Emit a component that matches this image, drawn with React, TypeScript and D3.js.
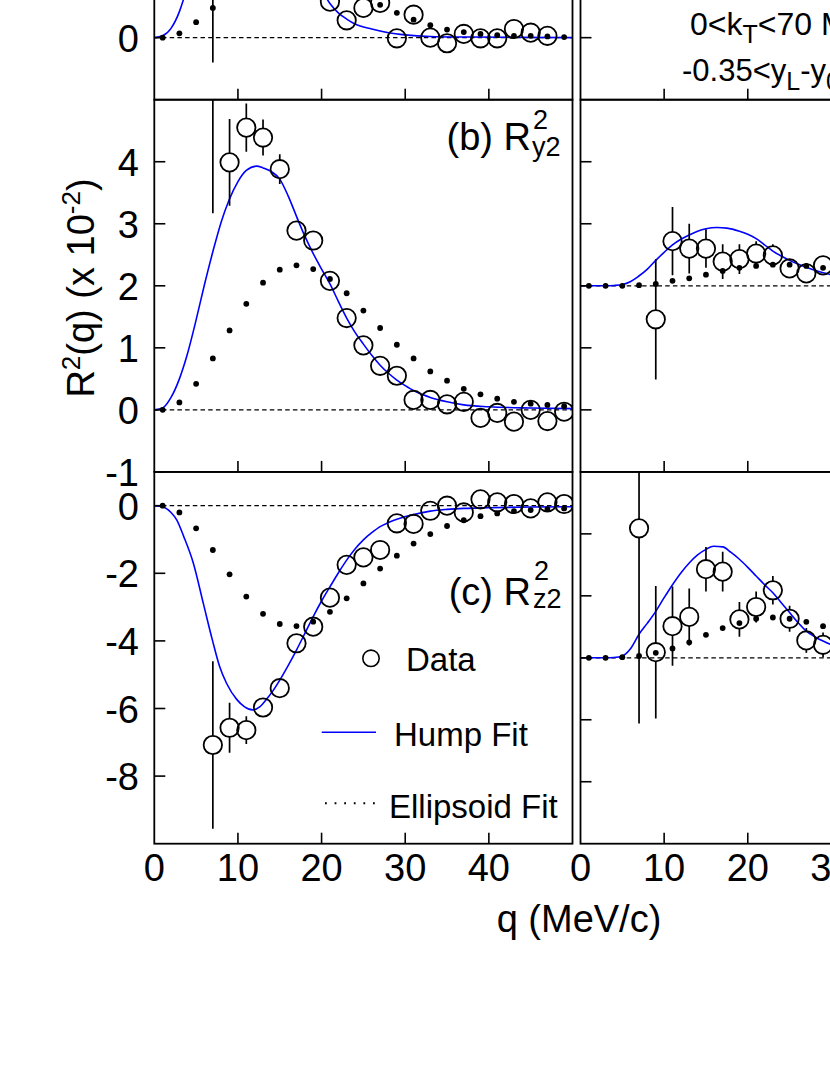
import React from "react";
import * as d3 from "d3";

// ---------------- data ----------------
const Q_LEFT = [1, 3, 5, 7, 9, 11, 13, 15, 17, 19, 21, 23, 25, 27, 29, 31, 33, 35, 37, 39, 41, 43, 45, 47, 49];
const Q_RIGHT = [1, 3, 5, 7, 9, 11, 13, 15, 17, 19, 21, 23, 25, 27, 29];

// (a) left panel (mostly above the visible area)
const A_ELL = [0, 0.07, 0.25, 0.48, 0.8, 1.1, 1.3, 1.38, 1.33, 1.2, 1.02, 0.85, 0.7, 0.53, 0.4, 0.29, 0.2, 0.13, 0.09, 0.06, 0.04, 0.03, 0.03, 0.02, 0.01];
const A_DATA = [null, null, null, 1.5, 2.5, 2.7, 2.5, 2.1, 1.6, 1.1, 0.58, 0.28, 0.48, 0.56, -0.01, 0.37, 0.0, -0.09, 0.06, -0.01, -0.01, 0.14, 0.08, 0.03, null];
const A_ERR = [0, 0, 0, 1.9, 0.5, 0.35, 0.25, 0.2, 0.15, 0.1, 0.08, 0.07, 0.06, 0.06, 0.05, 0.05, 0.05, 0.05, 0.05, 0.05, 0.05, 0.05, 0.05, 0.05, 0];
const A_HUMP_Q = [0, 1, 2, 3, 3.5, 4, 6, 8, 10, 12, 14, 16, 18, 20, 21, 22, 23, 24, 26, 28, 30, 33, 38, 50];
const A_HUMP = [0, 0.03, 0.15, 0.42, 0.62, 0.85, 1.9, 2.7, 3.0, 2.9, 2.5, 1.9, 1.3, 0.78, 0.55, 0.4, 0.3, 0.22, 0.14, 0.08, 0.045, 0.02, 0.01, 0];

// (b) R^2_y2 left panel
const B_ELL = [0, 0.12, 0.42, 0.83, 1.28, 1.71, 2.05, 2.26, 2.33, 2.27, 2.11, 1.88, 1.6, 1.32, 1.05, 0.83, 0.62, 0.47, 0.34, 0.25, 0.18, 0.13, 0.1, 0.08, 0.06];
const B_DATA = [null, null, null, 6.5, 3.99, 4.55, 4.39, 3.88, 2.89, 2.73, 2.08, 1.48, 1.04, 0.71, 0.55, 0.16, 0.16, 0.09, 0.13, -0.13, -0.05, -0.19, 0.0, -0.18, -0.03];
const B_ERR = [0, 0, 0, 3.33, 0.7, 0.39, 0.29, 0.24, 0.1, 0.1, 0.08, 0.06, 0.06, 0.05, 0.05, 0.05, 0.05, 0.05, 0.05, 0.05, 0.05, 0.05, 0.05, 0.05, 0.05];
const B_HUMP_Q = [0, 1, 2, 3, 3.87, 5, 6, 7.06, 8, 8.93, 10, 11, 12.24, 13, 14, 15, 16, 17, 18, 19, 20, 21, 22, 23, 24, 25, 26, 27, 28, 29, 30, 31, 32, 33, 35, 37, 40, 45, 50];
const B_HUMP = [0, 0.03, 0.2, 0.5, 0.86, 1.45, 2.02, 2.58, 3.03, 3.38, 3.68, 3.86, 3.93, 3.9, 3.84, 3.72, 3.45, 3.12, 2.8, 2.52, 2.27, 2.03, 1.75, 1.48, 1.25, 1.06, 0.88, 0.72, 0.59, 0.48, 0.39, 0.31, 0.25, 0.2, 0.13, 0.08, 0.05, 0.03, 0.02];

// (c) R^2_z2 left panel
const C_ELL = [0, -0.2, -0.67, -1.31, -2.03, -2.69, -3.2, -3.5, -3.56, -3.43, -3.14, -2.74, -2.3, -1.86, -1.48, -1.12, -0.84, -0.6, -0.43, -0.31, -0.23, -0.16, -0.13, -0.1, -0.08];
const C_DATA = [null, null, null, -7.08, -6.57, -6.64, -5.97, -5.4, -4.07, -3.58, -2.72, -1.75, -1.53, -1.31, -0.52, -0.54, -0.15, 0.0, -0.2, 0.19, 0.1, 0.05, -0.08, 0.1, 0.05];
const C_ERR = [0, 0, 0, 2.48, 0.74, 0.41, 0.12, 0.1, 0.1, 0.1, 0.08, 0.08, 0.07, 0.07, 0.06, 0.06, 0.06, 0.06, 0.06, 0.06, 0.06, 0.06, 0.06, 0.06, 0.06];
const C_HUMP_Q = [0, 1, 2, 2.68, 3.5, 4.67, 5.86, 6.94, 7.8, 8.65, 9.85, 10.8, 11.76, 12.6, 13.4, 14.2, 15, 16, 17, 18, 19, 20, 21, 22, 23, 24, 25, 26, 27, 28, 29, 31, 33, 35, 37, 40, 45, 50];
const C_HUMP = [0, -0.03, -0.2, -0.42, -0.9, -1.7, -2.89, -3.97, -4.75, -5.26, -5.73, -5.95, -6.04, -5.95, -5.73, -5.47, -5.16, -4.73, -4.27, -3.78, -3.28, -2.82, -2.4, -1.99, -1.61, -1.28, -1.01, -0.8, -0.62, -0.5, -0.4, -0.26, -0.16, -0.11, -0.08, -0.06, -0.04, -0.03];

// right column, middle row
const RB_ELL = [0, 0, 0, 0.01, 0.03, 0.08, 0.12, 0.18, 0.24, 0.29, 0.32, 0.34, 0.34, 0.32, 0.29];
const RB_DATA = [null, null, null, null, -0.54, 0.72, 0.6, 0.6, 0.39, 0.43, 0.52, 0.49, 0.28, 0.2, 0.33];
const RB_ERR = [0, 0, 0, 0, 0.97, 0.55, 0.4, 0.31, 0.28, 0.24, 0.2, 0.18, 0.12, 0.08, 0.08];
const RB_HUMP_Q = [0, 3, 4, 5, 6, 6.9, 8, 9, 10, 11, 12, 13, 14, 15, 16.3, 17.5, 19, 20, 21, 22, 23, 24, 25, 26, 27, 28, 29, 30, 31];
const RB_HUMP = [0, 0, 0.005, 0.02, 0.07, 0.15, 0.27, 0.41, 0.54, 0.66, 0.75, 0.82, 0.88, 0.92, 0.94, 0.93, 0.88, 0.83, 0.76, 0.66, 0.56, 0.48, 0.41, 0.35, 0.3, 0.25, 0.21, 0.18, 0.15];

// right column, bottom row
const RC_ELL = [0, 0, 0.01, 0.03, 0.08, 0.15, 0.25, 0.37, 0.48, 0.56, 0.63, 0.65, 0.63, 0.58, 0.51];
const RC_DATA = [null, null, null, 2.09, 0.09, 0.51, 0.66, 1.43, 1.39, 0.62, 0.82, 1.09, 0.63, 0.28, 0.21];
const RC_ERR = [0, 0, 0, 3.15, 1.07, 0.64, 0.46, 0.36, 0.32, 0.28, 0.25, 0.23, 0.21, 0.2, 0.2];
const RC_HUMP_Q = [0, 3, 4, 5, 6, 7, 8, 9, 10, 11, 12, 13, 14, 15, 15.9, 17, 18, 19, 20, 21, 22, 23, 24, 25, 26, 27, 28, 29, 30, 31];
const RC_HUMP = [0, 0, 0.005, 0.03, 0.15, 0.38, 0.56, 0.75, 0.97, 1.18, 1.37, 1.53, 1.66, 1.75, 1.8, 1.79, 1.7, 1.59, 1.46, 1.32, 1.18, 1.05, 0.89, 0.73, 0.57, 0.43, 0.34, 0.27, 0.21, 0.17];

const X_TICKS = [10, 20, 30, 40];
const X_TICK_LABELS = [0, 10, 20, 30, 40];
const LEFT_YTICKS_A = [0, 1, 2, 3, 4];
const LEFT_YLABELS_A = [0];
const LEFT_YTICKS_B = [-1, 0, 1, 2, 3, 4];
const LEFT_YTICKS_C = [-8, -6, -4, -2, 0];
const RIGHT_YTICKS = [-2, -1, 0, 1, 2];

const FONT = "'Liberation Sans', Arial, Helvetica, sans-serif";

type Panel = {
  id: string;
  xr: [number, number];
  yr: [number, number]; // [bottom, top] in px
  yd: [number, number];
  yTicks: number[];
  yLabels: number[];
  xLabels: boolean;
  ellQ: number[];
  ell: number[];
  dataQ: number[];
  data: (number | null)[];
  err: number[];
  humpQ: number[];
  hump: number[];
};

const LEFT_X: [number, number] = [154.3, 572.5];
const RIGHT_X: [number, number] = [580.5, 998.7];
const ROW_A: [number, number] = [99.7, -272.5];
const ROW_B: [number, number] = [471.9, 99.7];
const ROW_C: [number, number] = [843.7, 471.9];

const PANELS: Panel[] = [
  { id: "la", xr: LEFT_X, yr: ROW_A, yd: [-1, 5], yTicks: LEFT_YTICKS_A, yLabels: LEFT_YLABELS_A, xLabels: false,
    ellQ: Q_LEFT, ell: A_ELL, dataQ: Q_LEFT, data: A_DATA, err: A_ERR, humpQ: A_HUMP_Q, hump: A_HUMP },
  { id: "lb", xr: LEFT_X, yr: ROW_B, yd: [-1, 5], yTicks: LEFT_YTICKS_B, yLabels: LEFT_YTICKS_B, xLabels: false,
    ellQ: Q_LEFT, ell: B_ELL, dataQ: Q_LEFT, data: B_DATA, err: B_ERR, humpQ: B_HUMP_Q, hump: B_HUMP },
  { id: "lc", xr: LEFT_X, yr: ROW_C, yd: [-10, 1], yTicks: LEFT_YTICKS_C, yLabels: LEFT_YTICKS_C, xLabels: true,
    ellQ: Q_LEFT, ell: C_ELL, dataQ: Q_LEFT, data: C_DATA, err: C_ERR, humpQ: C_HUMP_Q, hump: C_HUMP },
  { id: "ra", xr: RIGHT_X, yr: ROW_A, yd: [-3, 3], yTicks: RIGHT_YTICKS, yLabels: [], xLabels: false,
    ellQ: [], ell: [], dataQ: [], data: [], err: [], humpQ: [], hump: [] },
  { id: "rb", xr: RIGHT_X, yr: ROW_B, yd: [-3, 3], yTicks: RIGHT_YTICKS, yLabels: [], xLabels: false,
    ellQ: Q_RIGHT, ell: RB_ELL, dataQ: Q_RIGHT, data: RB_DATA, err: RB_ERR, humpQ: RB_HUMP_Q, hump: RB_HUMP },
  { id: "rc", xr: RIGHT_X, yr: ROW_C, yd: [-3, 3], yTicks: RIGHT_YTICKS, yLabels: [], xLabels: true,
    ellQ: Q_RIGHT, ell: RC_ELL, dataQ: Q_RIGHT, data: RC_DATA, err: RC_ERR, humpQ: RC_HUMP_Q, hump: RC_HUMP },
];

const R_DATA = 9.2;
const R_DOT = 2.9;
const TICK = 11;

function PanelView({ p }: { p: Panel }) {
  const x = d3.scaleLinear().domain([0, 50]).range(p.xr);
  const y = d3.scaleLinear().domain(p.yd).range(p.yr);
  const [x0, x1] = p.xr;
  const [yb, yt] = p.yr;
  const humpPts: [number, number][] = p.humpQ.map((q, i) => [q, p.hump[i]]);
  const line = d3
    .line<[number, number]>()
    .x((d) => x(d[0]))
    .y((d) => y(d[1]))
    .curve(d3.curveMonotoneX);
  const clipId = `clip-${p.id}`;
  return (
    <g>
      <defs>
        <clipPath id={clipId}>
          <rect x={x0} y={yt} width={x1 - x0} height={yb - yt} />
        </clipPath>
      </defs>
      <g clipPath={`url(#${clipId})`}>
        <line x1={x0} x2={x1} y1={y(0)} y2={y(0)} stroke="#000" strokeWidth={1.3} strokeDasharray="4.5,3.2" />
        {humpPts.length > 0 && (
          <path d={line(humpPts) || ""} fill="none" stroke="#0000ff" strokeWidth={1.6} />
        )}
        {p.ellQ.map((q, i) => (
          <circle key={`e${i}`} cx={x(q)} cy={y(p.ell[i])} r={R_DOT} fill="#000" />
        ))}
        {p.dataQ.map((q, i) => {
          const v = p.data[i];
          if (v === null || v === undefined) return null;
          const cx = x(q);
          const cy = y(v);
          const e = p.err[i];
          const yLo = y(v - e);
          const yHi = y(v + e);
          return (
            <g key={`d${i}`}>
              {yLo - cy > R_DATA && (
                <line x1={cx} x2={cx} y1={cy + R_DATA} y2={yLo} stroke="#000" strokeWidth={1.7} />
              )}
              {cy - yHi > R_DATA && (
                <line x1={cx} x2={cx} y1={cy - R_DATA} y2={yHi} stroke="#000" strokeWidth={1.7} />
              )}
              <circle cx={cx} cy={cy} r={R_DATA} fill="none" stroke="#000" strokeWidth={1.8} />
            </g>
          );
        })}
      </g>
      {/* ticks */}
      {p.yTicks.map((t) => (
        <line key={`yt${t}`} x1={x0} x2={x0 + TICK} y1={y(t)} y2={y(t)} stroke="#000" strokeWidth={1.6} />
      ))}
      {X_TICKS.map((t) => (
        <line key={`xt${t}`} x1={x(t)} x2={x(t)} y1={yb} y2={yb - TICK} stroke="#000" strokeWidth={1.6} />
      ))}
      <rect x={x0} y={yt} width={x1 - x0} height={yb - yt} fill="none" stroke="#000" strokeWidth={1.8} />
      {p.yLabels.map((t) => (
        <text key={`yl${t}`} x={139} y={y(t) + 14} textAnchor="end" fontSize={38} fontFamily={FONT}>
          {t}
        </text>
      ))}
      {p.xLabels &&
        X_TICK_LABELS.map((t) => (
          <text key={`xl${t}`} x={x(t)} y={881} textAnchor="middle" fontSize={38} fontFamily={FONT}>
            {t}
          </text>
        ))}
    </g>
  );
}

export default function App() {
  return (
    <svg
      width={830}
      height={1075}
      style={{ position: "absolute", left: 0, top: 0, background: "#fff" }}
      fontFamily={FONT}
    >
      <rect x={0} y={0} width={830} height={1075} fill="#fff" />
      {PANELS.map((p) => (
        <PanelView key={p.id} p={p} />
      ))}

      {/* panel labels */}
      <text x={531} y={150} textAnchor="end" fontSize={38}>(b) R</text>
      <text x={533} y={129} fontSize={27}>2</text>
      <text x={532} y={156} fontSize={27}>y2</text>

      <text x={531} y={605} textAnchor="end" fontSize={38}>(c) R</text>
      <text x={534} y={580} fontSize={27}>2</text>
      <text x={533} y={608} fontSize={27}>z2</text>

      {/* legend */}
      <circle cx={371} cy={658.3} r={8.2} fill="none" stroke="#000" strokeWidth={1.6} />
      <text x={406} y={670.7} fontSize={33}>Data</text>
      <line x1={321.7} x2={376} y1={732.3} y2={732.3} stroke="#0000ff" strokeWidth={1.6} />
      <text x={394} y={746} fontSize={33}>Hump Fit</text>
      <line x1={325} x2={377} y1={803.3} y2={803.3} stroke="#000" strokeWidth={2} strokeDasharray="1.8,7.8" />
      <text x={389} y={818.3} fontSize={33}>Ellipsoid Fit</text>

      {/* kinematic cuts */}
      <text x={690} y={35} fontSize={32}>
        0&lt;k<tspan dy={8} fontSize={25}>T</tspan><tspan dy={-8}>&lt;70 MeV/c</tspan>
      </text>
      <text x={682} y={81} fontSize={31}>
        -0.35&lt;y<tspan dy={9} fontSize={25}>L</tspan><tspan dy={-9}>-y</tspan>
        <tspan dy={9} fontSize={25}>0</tspan><tspan dy={-9}>&lt;0.35</tspan>
      </text>

      {/* axis titles */}
      <text x={579} y={932} textAnchor="middle" fontSize={38}>q (MeV/c)</text>
      <text transform="translate(94,288) rotate(-90)" textAnchor="middle" fontSize={38}>
        R<tspan dy={-14} fontSize={26}>2</tspan>
        <tspan dy={14}>(q) (x 10</tspan>
        <tspan dy={-14} fontSize={26}>-2</tspan>
        <tspan dy={14}>)</tspan>
      </text>
    </svg>
  );
}
